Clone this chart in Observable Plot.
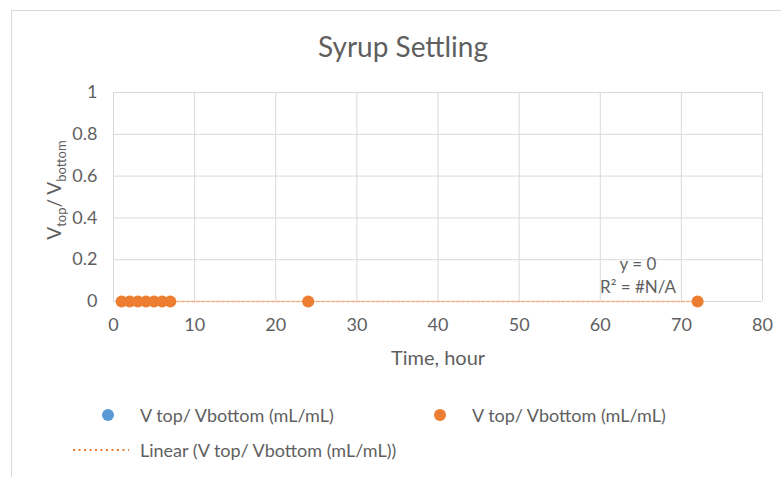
<!DOCTYPE html>
<html>
<head>
<meta charset="utf-8">
<script src="https://cdn.jsdelivr.net/npm/d3@7"></script>
<script src="https://cdn.jsdelivr.net/npm/@observablehq/plot@0.6"></script>
<style>
  html, body { margin: 0; padding: 0; background: #fff; }
  #wrap { position: relative; width: 781px; height: 477px; overflow: hidden; font-family: Lato, "Open Sans", sans-serif; color: #5f5f5f; }
  #frame { position: absolute; left: 11px; top: 10px; width: 800px; height: 480px; border: 1.5px solid #d9d9d9; box-sizing: border-box; }
  #chart { position: absolute; left: 0; top: 0; }
  .t { position: absolute; white-space: nowrap; line-height: 1; }
  .dot { position: absolute; width: 12px; height: 12px; border-radius: 50%; }
</style>
</head>
<body>
<div id="wrap">
  <div id="frame"></div>
  <div id="chart"></div>
  <div class="t" style="left:203px;width:400px;top:32px;text-align:center;font-size:28px;">Syrup Settling</div>
  <div class="t" style="left:338px;width:200px;top:347px;text-align:center;font-size:20px;">Time, hour</div>
  <div class="t" style="left:-46px;top:180px;width:200px;text-align:center;font-size:19px;transform:rotate(-90deg);transform-origin:100px 10px;line-height:20px;">V<sub style="font-size:13px;">top</sub>/ V<sub style="font-size:13px;">bottom</sub></div>
  <div class="t" style="left:588px;width:100px;top:255px;text-align:center;font-size:17px;">y = 0</div>
  <div class="t" style="left:588px;width:100px;top:278px;text-align:center;font-size:17px;">R² = #N/A</div>
  <div class="dot" style="left:102px;top:409px;background:#5b9bd5;"></div>
  <div class="t" style="left:140px;top:404px;font-size:18px;line-height:22px;">V top/ Vbottom (mL/mL)</div>
  <div class="dot" style="left:434px;top:409px;background:#ed7d31;"></div>
  <div class="t" style="left:472px;top:404px;font-size:18px;line-height:22px;">V top/ Vbottom (mL/mL)</div>
  <svg class="t" style="left:72px;top:445px;" width="58" height="10"><line x1="1" y1="5" x2="57" y2="5" stroke="#ed7d31" stroke-width="2" stroke-dasharray="2,3.5"/></svg>
  <div class="t" style="left:140px;top:439px;font-size:18px;line-height:22px;">Linear (V top/ Vbottom (mL/mL))</div>
</div>
<script>
const timeHours = [1, 2, 3, 4, 5, 6, 7, 24, 72];
const ratio = [0, 0, 0, 0, 0, 0, 0, 0, 0];
const trendX = [1, 72];
const trendY = [0, 0];
const xTicks = [0, 10, 20, 30, 40, 50, 60, 70, 80];
const yTicks = [0, 0.2, 0.4, 0.6, 0.8, 1];

const pts = timeHours.map((t, i) => ({t, v: ratio[i]}));
const trend = trendX.map((t, i) => ({t, v: trendY[i]}));

const chart = Plot.plot({
  width: 781,
  height: 477,
  marginLeft: 113,
  marginRight: 19,
  marginTop: 92,
  marginBottom: 176,
  style: {fontFamily: "Lato, 'Open Sans', sans-serif", fontSize: "18px", color: "#5f5f5f", background: "transparent", overflow: "visible"},
  x: {domain: [0, 80], ticks: xTicks, label: null},
  y: {domain: [0, 1], ticks: yTicks, label: null, tickFormat: d => String(d)},
  marks: [
    Plot.gridX(xTicks, {stroke: "#d9d9d9", strokeOpacity: 1, strokeWidth: 1}),
    Plot.gridY(yTicks, {stroke: "#d9d9d9", strokeOpacity: 1, strokeWidth: 1}),
    Plot.axisX({ticks: xTicks, tickSize: 0, tickPadding: 17, fontSize: 18, fill: "#5f5f5f"}),
    Plot.axisY({ticks: yTicks, tickSize: 0, tickPadding: 16, fontSize: 18, fill: "#5f5f5f", tickFormat: d => String(d)}),
    Plot.line(trend, {x: "t", y: "v", stroke: "#f4b183", strokeWidth: 1.5, strokeDasharray: "3,2"}),
    Plot.dot(pts, {x: "t", y: "v", r: 6, fill: "#ed7d31", stroke: "none"})
  ]
});
document.getElementById("chart").appendChild(chart);
</script>
</body>
</html>
